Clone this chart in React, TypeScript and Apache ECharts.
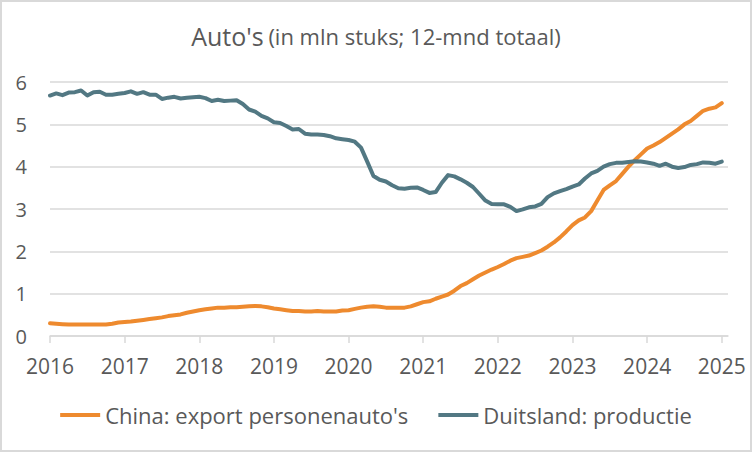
import React, { useEffect, useRef } from "react";
import * as echarts from "echarts";

const START_YEAR = 2016;
const yearTicks = [2016, 2017, 2018, 2019, 2020, 2021, 2022, 2023, 2024, 2025];
const yTicks = [0, 1, 2, 3, 4, 5, 6];
const titleMain = "Auto's";
const titleSub = "(in mln stuks; 12-mnd totaal)";
const seriesNames = ["China: export personenauto's", "Duitsland: productie"];

// monthly values, Jan 2016 .. Jan 2025
const china = [
  0.30, 0.29, 0.28, 0.27, 0.27, 0.27, 0.27, 0.27, 0.27, 0.27, 0.29, 0.32,
  0.33, 0.34, 0.36, 0.38, 0.40, 0.42, 0.44, 0.47, 0.49, 0.51, 0.55, 0.58,
  0.61, 0.63, 0.65, 0.67, 0.67, 0.68, 0.68, 0.69, 0.70, 0.71, 0.70, 0.68,
  0.65, 0.63, 0.61, 0.59, 0.59, 0.58, 0.58, 0.59, 0.58, 0.58, 0.58, 0.60,
  0.61, 0.64, 0.67, 0.69, 0.70, 0.69, 0.67, 0.67, 0.67, 0.67, 0.70, 0.75,
  0.80, 0.82, 0.88, 0.93, 0.98, 1.07, 1.18, 1.25, 1.34, 1.43, 1.50, 1.57,
  1.63, 1.70, 1.78, 1.84, 1.87, 1.90, 1.96, 2.02, 2.11, 2.21, 2.33, 2.47,
  2.62, 2.73, 2.80, 2.95, 3.20, 3.45, 3.56, 3.66, 3.83, 4.00, 4.15, 4.29,
  4.43, 4.50, 4.58, 4.68, 4.78, 4.88, 5.00, 5.08, 5.20, 5.32, 5.37, 5.40,
  5.50,
];

const germany = [
  5.68, 5.73, 5.69, 5.75, 5.76, 5.80, 5.68, 5.76, 5.77, 5.70, 5.70, 5.72,
  5.74, 5.78, 5.72, 5.76, 5.70, 5.70, 5.60, 5.63, 5.65, 5.61, 5.63, 5.64,
  5.65, 5.62, 5.55, 5.58, 5.55, 5.56, 5.57, 5.48, 5.35, 5.30, 5.20, 5.14,
  5.05, 5.03, 4.96, 4.88, 4.89, 4.78, 4.76, 4.76, 4.75, 4.72, 4.67, 4.65,
  4.63, 4.59, 4.45, 4.12, 3.78, 3.69, 3.65, 3.56, 3.49, 3.48, 3.50, 3.51,
  3.45, 3.38, 3.40, 3.62, 3.80, 3.77, 3.70, 3.62, 3.52, 3.36, 3.20, 3.12,
  3.11, 3.11, 3.05, 2.95, 2.99, 3.04, 3.06, 3.12, 3.28, 3.37, 3.42, 3.47,
  3.53, 3.58, 3.72, 3.84, 3.90, 4.00, 4.06, 4.09, 4.09, 4.11, 4.13, 4.12,
  4.10, 4.07, 4.02, 4.07, 4.00, 3.97, 3.99, 4.04, 4.06, 4.10, 4.09, 4.07,
  4.12,
];

const COLORS = ["#EE8A2E", "#527883"];
const TEXT = "#595959";
const GRID = "#D9D9D9";
const FONT = "'Open Sans', Lato, sans-serif";

export default function App() {
  const ref = useRef<HTMLDivElement>(null);
  useEffect(() => {
    document.body.style.margin = "0";
    const chart = echarts.init(ref.current as HTMLDivElement, null, { renderer: "svg" });
    const toPoints = (arr: number[]) => arr.map((v, i) => [START_YEAR + i / 12, v]);
    chart.setOption({
      animation: false,
      textStyle: { fontFamily: FONT },
      title: {
        text: `{a|${titleMain}} {b|${titleSub}}`,
        left: "center",
        top: 18,
        textStyle: {
          fontWeight: "normal",
          rich: {
            a: { fontSize: 25, color: TEXT, fontFamily: FONT, fontWeight: "normal" },
            b: { fontSize: 22, color: TEXT, fontFamily: FONT, fontWeight: "normal" },
          },
        },
      },
      graphic: [
        {
          type: "rect",
          shape: { x: 1, y: 1, width: 750, height: 450 },
          style: { fill: "none", stroke: GRID, lineWidth: 2 },
          silent: true,
        },
      ],
      legend: {
        bottom: 21,
        left: "center",
        itemWidth: 40,
        itemHeight: 4,
        itemGap: 30,
        icon: "rect",
        textStyle: { fontSize: 22, color: TEXT, fontFamily: FONT },
        data: seriesNames,
      },
      grid: { left: 50, right: 24, top: 82, bottom: 116, containLabel: false },
      xAxis: {
        type: "value",
        min: START_YEAR,
        max: yearTicks[yearTicks.length - 1] + 1 / 12,
        splitLine: { show: false },
        axisLine: { lineStyle: { color: GRID, width: 1.5 } },
        axisTick: {
          show: true,
          length: 7,
          customValues: yearTicks,
          lineStyle: { color: GRID, width: 1.5 },
        },
        axisLabel: {
          customValues: yearTicks,
          formatter: (v: number) => String(Math.round(v)),
          color: TEXT,
          fontSize: 21,
          margin: 19,
          fontFamily: FONT,
        },
      },
      yAxis: {
        type: "value",
        min: yTicks[0],
        max: yTicks[yTicks.length - 1],
        interval: 1,
        axisLine: { show: false },
        axisTick: { show: false },
        splitLine: { lineStyle: { color: GRID, width: 1.5 } },
        axisLabel: { color: TEXT, fontSize: 20, margin: 23, fontFamily: FONT },
      },
      series: [
        {
          name: seriesNames[0],
          type: "line",
          data: toPoints(china),
          showSymbol: false,
          symbol: "none",
          color: COLORS[0],
          lineStyle: { width: 4, color: COLORS[0], cap: "round", join: "round" },
        },
        {
          name: seriesNames[1],
          type: "line",
          data: toPoints(germany),
          showSymbol: false,
          symbol: "none",
          color: COLORS[1],
          lineStyle: { width: 4, color: COLORS[1], cap: "round", join: "round" },
        },
      ],
    });
    return () => chart.dispose();
  }, []);
  return (
    <div
      ref={ref}
      style={{ width: 752, height: 452, position: "absolute", left: 0, top: 0, background: "#fff" }}
    />
  );
}
